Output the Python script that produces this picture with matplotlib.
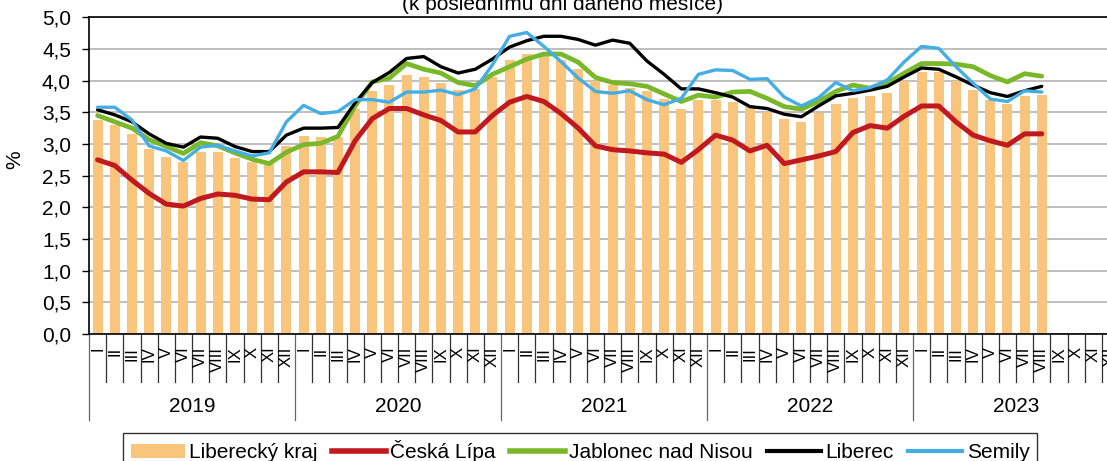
import numpy as np
import matplotlib
matplotlib.use("Agg")
import matplotlib.pyplot as plt
from matplotlib.patches import Patch
from matplotlib.lines import Line2D

plt.rcParams['font.family'] = ['Liberation Sans', 'DejaVu Sans']

years = ['2019', '2020', '2021', '2022', '2023']
months = ['I', 'II', 'III', 'IV', 'V', 'VI', 'VII', 'VIII', 'IX', 'X', 'XI', 'XII']

# podíl nezaměstnaných osob (%), I/2019 .. VIII/2023
liberecky_kraj = [3.38, 3.30, 3.16, 2.92, 2.80, 2.71, 2.87, 2.87, 2.78, 2.71, 2.70, 2.97,
                  3.12, 3.11, 3.11, 3.56, 3.83, 3.93, 4.09, 4.06, 3.97, 3.85, 3.87, 4.06,
                  4.33, 4.42, 4.40, 4.32, 4.18, 4.00, 3.93, 3.89, 3.83, 3.71, 3.56, 3.69,
                  3.69, 3.67, 3.58, 3.51, 3.39, 3.35, 3.49, 3.63, 3.72, 3.75, 3.81, 4.00,
                  4.14, 4.13, 4.00, 3.86, 3.69, 3.63, 3.76, 3.77]
ceska_lipa = [2.75, 2.66, 2.43, 2.22, 2.05, 2.02, 2.14, 2.21, 2.19, 2.13, 2.12, 2.40,
              2.56, 2.56, 2.55, 3.05, 3.40, 3.56, 3.56, 3.46, 3.37, 3.19, 3.19, 3.45,
              3.66, 3.75, 3.67, 3.48, 3.25, 2.97, 2.91, 2.89, 2.86, 2.84, 2.71, 2.91,
              3.14, 3.06, 2.89, 2.98, 2.69, 2.75, 2.81, 2.88, 3.18, 3.29, 3.25, 3.44,
              3.60, 3.60, 3.35, 3.14, 3.05, 2.98, 3.16, 3.16]
jablonec = [3.45, 3.35, 3.25, 3.07, 2.96, 2.85, 3.02, 2.97, 2.86, 2.76, 2.69, 2.87,
            2.99, 3.01, 3.12, 3.60, 3.98, 4.04, 4.27, 4.18, 4.12, 3.97, 3.92, 4.10,
            4.22, 4.34, 4.42, 4.42, 4.29, 4.05, 3.97, 3.95, 3.91, 3.79, 3.67, 3.77,
            3.74, 3.82, 3.83, 3.72, 3.59, 3.55, 3.67, 3.83, 3.93, 3.88, 3.96, 4.12,
            4.27, 4.27, 4.26, 4.22, 4.08, 3.98, 4.11, 4.07]
liberec = [3.54, 3.46, 3.35, 3.16, 3.01, 2.95, 3.11, 3.09, 2.96, 2.88, 2.88, 3.14,
           3.25, 3.25, 3.26, 3.65, 3.97, 4.13, 4.35, 4.38, 4.22, 4.12, 4.18, 4.34,
           4.53, 4.63, 4.70, 4.70, 4.65, 4.56, 4.64, 4.59, 4.31, 4.10, 3.87, 3.87,
           3.81, 3.74, 3.59, 3.56, 3.47, 3.43, 3.60, 3.76, 3.80, 3.85, 3.91, 4.06,
           4.20, 4.18, 4.06, 3.93, 3.81, 3.75, 3.84, 3.91]
semily = [3.58, 3.58, 3.38, 2.97, 2.89, 2.74, 2.95, 2.98, 2.89, 2.81, 2.86, 3.35,
          3.61, 3.48, 3.51, 3.70, 3.70, 3.66, 3.82, 3.82, 3.85, 3.78, 3.87, 4.25,
          4.70, 4.76, 4.54, 4.30, 4.04, 3.83, 3.80, 3.84, 3.70, 3.62, 3.72, 4.10,
          4.17, 4.16, 4.02, 4.03, 3.74, 3.60, 3.73, 3.97, 3.84, 3.89, 4.01, 4.30,
          4.54, 4.51, 4.22, 3.96, 3.71, 3.67, 3.84, 3.82]

c_bar = '#F9C47B'
c_red = '#C0191F'
c_green = '#79B829'
c_black = '#000000'
c_blue = '#44ADE4'

fig = plt.figure(figsize=(11.07, 4.61), dpi=100)
ax = fig.add_axes([89 / 1107, 127 / 461, 1030 / 1107, 316.7 / 461])

n_slots = len(years) * len(months)
x = np.arange(len(liberecky_kraj))

ax.bar(x, liberecky_kraj, width=0.58, color=c_bar, zorder=2)
ax.plot(x, ceska_lipa, color=c_red, lw=3.6, zorder=3, solid_capstyle='round')
ax.plot(x, jablonec, color=c_green, lw=3.4, zorder=4, solid_capstyle='round')
ax.plot(x, liberec, color=c_black, lw=2.4, zorder=5, solid_capstyle='round')
ax.plot(x, semily, color=c_blue, lw=2.4, zorder=6, solid_capstyle='round')

ax.set_xlim(-0.5, n_slots - 0.5)
ax.set_ylim(0, 5)
yt = np.arange(0, 5.01, 0.5)
ax.set_yticks(yt)
ax.set_yticklabels([f"{v:.1f}".replace('.', ',') for v in yt], fontsize=15)
ax.tick_params(axis='y', length=5, width=1, pad=8)
ax.set_xticks([])
ax.yaxis.grid(True, color='#BEBEBE', lw=1.4, zorder=0)
ax.set_axisbelow(True)
for s in ['left', 'bottom', 'top']:
    ax.spines[s].set_color('black')
    ax.spines[s].set_linewidth(1.2)
ax.spines['right'].set_visible(False)

# category axis: months and years
tr = ax.get_xaxis_transform()
for i in range(n_slots):
    ax.text(i, -0.04, months[i % 12], transform=tr, rotation=90,
            ha='center', va='top', fontsize=12)
for b in range(n_slots + 1):
    depth = -0.272 if b % 12 == 0 else -0.152
    col = '#666666' if b % 12 == 0 else '#333333'
    ax.plot([b - 0.5, b - 0.5], [0, depth], transform=tr, clip_on=False,
            color=col, lw=0.9)
for k, yr in enumerate(years):
    ax.text(12 * k + 5.5, -0.23, yr, transform=tr, ha='center', va='center', fontsize=15)

fig.text(15 / 1107, 1 - 160 / 461, '%', rotation=90, ha='center', va='center', fontsize=15)
fig.text(0.508, 0.978, '(k poslednímu dni daného měsíce)', ha='center', va='baseline',
         fontsize=15)

handles = [Patch(facecolor=c_bar, edgecolor='none'),
           Line2D([], [], color=c_red, lw=4),
           Line2D([], [], color=c_green, lw=4),
           Line2D([], [], color=c_black, lw=3),
           Line2D([], [], color=c_blue, lw=3)]
labels = ['Liberecký kraj', 'Česká Lípa', 'Jablonec nad Nisou', 'Liberec', 'Semily']
leg = fig.legend(handles, labels, loc='upper center', bbox_to_anchor=(0.524, 0.083),
                 ncol=5, fontsize=15, frameon=True, fancybox=False, edgecolor='black',
                 handlelength=2.6, handletextpad=0.2, columnspacing=0.7, borderpad=0.35)
leg.get_frame().set_linewidth(1.0)

fig.savefig('out.png', dpi=100)
